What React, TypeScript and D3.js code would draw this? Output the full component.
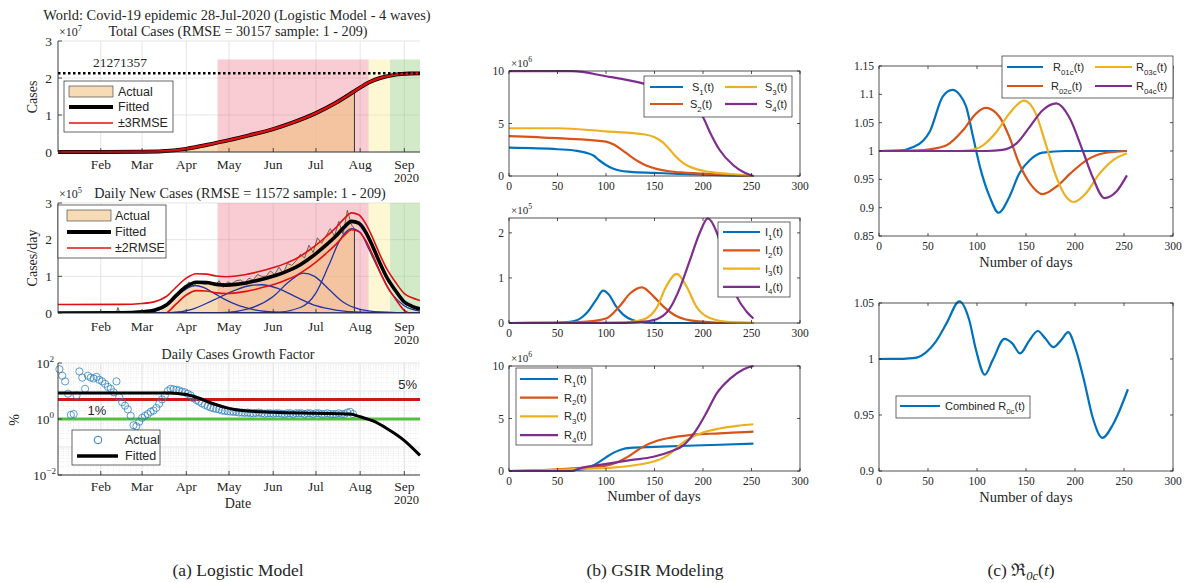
import React, { useEffect, useRef } from 'react';
import * as d3 from 'd3';

const SERIF = '"Liberation Serif", "DejaVu Serif", serif';
const SANS = '"Liberation Sans", Arial, sans-serif';
const INK = '#262626';
const MCOL = ['#0072BD', '#D95319', '#EDB120', '#7E2F8E'];

// ---------- (a) logistic model ----------
const monthTicks = ['2020-02-01', '2020-03-01', '2020-04-01', '2020-05-01', '2020-06-01', '2020-07-01', '2020-08-01', '2020-09-01'];
const monthNames = ['Feb', 'Mar', 'Apr', 'May', 'Jun', 'Jul', 'Aug', 'Sep'];
const phases = [['2020-04-23', '2020-08-07'], ['2020-08-07', '2020-08-22'], ['2020-08-22', '2020-09-12']];
const lastSample = '2020-07-28';
const finalSize = 2.1271357; // x1e7

// total cases, x1e7
const totalActual: [string, number][] = [
  ['2020-01-02', 0], ['2020-02-01', 0.001], ['2020-03-01', 0.009], ['2020-03-15', 0.017], ['2020-04-01', 0.09],
  ['2020-04-15', 0.2], ['2020-05-01', 0.33], ['2020-05-15', 0.45], ['2020-06-01', 0.62], ['2020-06-15', 0.8],
  ['2020-07-01', 1.05], ['2020-07-15', 1.34], ['2020-07-28', 1.66],
];
const totalFit: [string, number][] = [
  ['2020-01-02', 0], ['2020-02-01', 0.001], ['2020-03-01', 0.008], ['2020-03-15', 0.02], ['2020-04-01', 0.085],
  ['2020-04-15', 0.19], ['2020-05-01', 0.32], ['2020-05-15', 0.45], ['2020-06-01', 0.62], ['2020-06-15', 0.8],
  ['2020-07-01', 1.05], ['2020-07-15', 1.33], ['2020-07-28', 1.64], ['2020-08-07', 1.88], ['2020-08-15', 2.0],
  ['2020-08-25', 2.085], ['2020-09-05', 2.12], ['2020-09-12', 2.125],
];
const totalRmse3 = 0.009;

// daily new cases, x1e5
const dailyActual: [string, number][] = [
  ['2020-01-02', 0], ['2020-01-22', 0.005], ['2020-02-01', 0.02], ['2020-02-05', 0.035], ['2020-02-10', 0.025],
  ['2020-02-12', 0.02], ['2020-02-13', 0.15], ['2020-02-14', 0.05], ['2020-02-18', 0.02], ['2020-02-24', 0.01],
  ['2020-03-01', 0.02], ['2020-03-04', 0.025], ['2020-03-07', 0.04], ['2020-03-10', 0.05], ['2020-03-13', 0.1],
  ['2020-03-16', 0.15], ['2020-03-19', 0.28], ['2020-03-22', 0.33], ['2020-03-25', 0.45], ['2020-03-28', 0.65],
  ['2020-03-31', 0.7], ['2020-04-03', 0.85], ['2020-04-06', 0.72], ['2020-04-09', 0.86], ['2020-04-12', 0.8],
  ['2020-04-15', 0.78], ['2020-04-18', 0.84], ['2020-04-21', 0.74], ['2020-04-24', 0.88], ['2020-04-27', 0.7],
  ['2020-04-30', 0.85], ['2020-05-03', 0.8], ['2020-05-06', 0.88], ['2020-05-09', 0.9], ['2020-05-12', 0.82],
  ['2020-05-15', 0.95], ['2020-05-18', 0.9], ['2020-05-21', 1.05], ['2020-05-24', 1.0], ['2020-05-27', 1.0],
  ['2020-05-30', 1.15], ['2020-06-02', 1.05], ['2020-06-05', 1.25], ['2020-06-08', 1.08], ['2020-06-11', 1.35],
  ['2020-06-14', 1.3], ['2020-06-17', 1.42], ['2020-06-20', 1.6], ['2020-06-23', 1.5], ['2020-06-26', 1.85],
  ['2020-06-29', 1.65], ['2020-07-02', 2.05], ['2020-07-05', 1.9], ['2020-07-08', 2.1], ['2020-07-11', 2.3],
  ['2020-07-14', 2.1], ['2020-07-17', 2.5], ['2020-07-20', 2.15], ['2020-07-23', 2.8], ['2020-07-26', 2.4],
  ['2020-07-28', 2.3],
];
const dailyFit: [string, number][] = [
  ['2020-01-02', 0], ['2020-02-15', 0.005], ['2020-03-01', 0.03], ['2020-03-10', 0.08], ['2020-03-18', 0.22],
  ['2020-03-25', 0.48], ['2020-04-01', 0.72], ['2020-04-08', 0.84], ['2020-04-15', 0.83], ['2020-04-22', 0.78],
  ['2020-04-29', 0.76], ['2020-05-06', 0.78], ['2020-05-13', 0.82], ['2020-05-20', 0.88], ['2020-05-27', 0.95],
  ['2020-06-03', 1.03], ['2020-06-10', 1.13], ['2020-06-17', 1.25], ['2020-06-24', 1.42], ['2020-07-01', 1.62],
  ['2020-07-08', 1.85], ['2020-07-15', 2.1], ['2020-07-21', 2.35], ['2020-07-26', 2.5], ['2020-07-31', 2.45],
  ['2020-08-05', 2.2], ['2020-08-10', 1.8], ['2020-08-15', 1.35], ['2020-08-20', 0.95], ['2020-08-26', 0.6],
  ['2020-09-01', 0.3], ['2020-09-06', 0.19], ['2020-09-12', 0.11],
];
const dailyRmse2 = 0.23;
const wave1: [string, number][] = [
  ['2020-01-02', 0], ['2020-03-01', 0.01], ['2020-03-12', 0.07], ['2020-03-20', 0.25], ['2020-03-28', 0.55],
  ['2020-04-07', 0.75], ['2020-04-13', 0.7], ['2020-04-20', 0.55], ['2020-04-28', 0.37], ['2020-05-08', 0.2],
  ['2020-05-20', 0.08], ['2020-06-05', 0.02], ['2020-07-01', 0], ['2020-09-12', 0],
];
const wave2: [string, number][] = [
  ['2020-01-02', 0], ['2020-03-20', 0.01], ['2020-04-05', 0.1], ['2020-04-20', 0.35], ['2020-05-05', 0.62],
  ['2020-05-16', 0.75], ['2020-05-24', 0.77], ['2020-06-05', 0.66], ['2020-06-18', 0.42], ['2020-07-01', 0.2],
  ['2020-07-15', 0.08], ['2020-08-01', 0.02], ['2020-09-12', 0],
];
const wave3: [string, number][] = [
  ['2020-01-02', 0], ['2020-04-25', 0.01], ['2020-05-15', 0.12], ['2020-06-01', 0.45], ['2020-06-12', 0.85],
  ['2020-06-22', 1.09], ['2020-06-30', 1.0], ['2020-07-10', 0.65], ['2020-07-20', 0.3], ['2020-08-01', 0.1],
  ['2020-08-15', 0.03], ['2020-09-12', 0],
];
const wave4: [string, number][] = [
  ['2020-01-02', 0], ['2020-06-01', 0.01], ['2020-06-20', 0.15], ['2020-07-01', 0.55], ['2020-07-10', 1.3],
  ['2020-07-18', 2.0], ['2020-07-26', 2.3], ['2020-08-01', 2.2], ['2020-08-07', 1.75], ['2020-08-15', 1.1],
  ['2020-08-22', 0.6], ['2020-09-01', 0.2], ['2020-09-12', 0.05],
];

// growth factor (%), one value every 2 days from 3 Jan to 27 Jul
const growthStart = '2020-01-03';
const growthStep = 2;
const growthActual = [
  60, 35, 22, 8, 1.4, 1.5, 7, 50, 30, 12, 35, 30, 28, 32, 25,
  22, 18, 14, 12, 9, 22, 6, 4, 3, 2.2, 1.3, 0.6, 0.55, 0.8,
  1.1, 1.3, 1.5, 1.8, 2.0, 2.5, 3.5, 5, 7, 10, 12, 11.5, 11, 10.5, 9.5, 9,
  8, 7, 5.5, 4.8, 4.2, 3.6, 3.2, 2.9, 2.6, 2.4, 2.3, 2.2, 2.0, 1.95, 1.9,
  1.85, 1.8, 1.8, 1.7, 1.7, 1.65, 1.7, 1.6, 1.6, 1.65, 1.7, 1.6, 1.55, 1.6, 1.6,
  1.55, 1.6, 1.6, 1.55, 1.5, 1.6, 1.6, 1.5, 1.6, 1.6, 1.6, 1.5, 1.6, 1.6, 1.5,
  1.6, 1.6, 1.5, 1.5, 1.6, 1.5, 1.5, 1.5, 1.6, 1.5, 1.5, 1.7, 1.8, 1.5,
];
const growthFit: [string, number][] = [
  ['2020-01-02', 8.5], ['2020-03-20', 8.5], ['2020-04-01', 7.5], ['2020-04-10', 5.5], ['2020-04-20', 3.5],
  ['2020-05-01', 2.4], ['2020-05-10', 2.0], ['2020-06-01', 1.75], ['2020-07-01', 1.6], ['2020-07-25', 1.5],
  ['2020-08-01', 1.2], ['2020-08-10', 0.85], ['2020-08-20', 0.45], ['2020-09-01', 0.17], ['2020-09-12', 0.05],
];
const growthHi = 5;
const growthLo = 1;

// ---------- (b) GSIR modelling, x1e6 / x1e5 ----------
const S1: [number, number][] = [[0, 2.7], [50, 2.55], [70, 2.4], [80, 2.2], [87, 1.95], [93, 1.5], [100, 1.05], [107, 0.72], [115, 0.5], [125, 0.4], [150, 0.3], [175, 0.2], [200, 0.13], [225, 0.06], [252, 0]];
const S2: [number, number][] = [[0, 3.8], [50, 3.6], [100, 3.28], [108, 3.0], [117, 2.45], [125, 1.9], [133, 1.4], [142, 0.98], [152, 0.68], [165, 0.45], [180, 0.32], [200, 0.22], [225, 0.1], [252, 0]];
const S3: [number, number][] = [[0, 4.55], [50, 4.55], [100, 4.25], [140, 3.95], [150, 3.7], [158, 3.25], [165, 2.6], [172, 1.85], [180, 1.2], [190, 0.75], [200, 0.5], [215, 0.3], [235, 0.14], [252, 0]];
const S4: [number, number][] = [[0, 9.98], [65, 9.98], [100, 9.5], [139, 8.8], [170, 7.9], [190, 6.5], [200, 5.6], [207, 4.2], [217, 2.5], [231, 1.05], [242, 0.35], [252, 0]];

const I1: [number, number][] = [[0, 0], [45, 0.003], [60, 0.02], [70, 0.06], [80, 0.22], [90, 0.52], [97, 0.72], [103, 0.63], [110, 0.38], [118, 0.18], [128, 0.06], [140, 0.015], [160, 0], [252, 0]];
const I2: [number, number][] = [[0, 0], [50, 0.005], [80, 0.03], [100, 0.1], [114, 0.37], [125, 0.66], [137, 0.79], [149, 0.59], [159, 0.37], [173, 0.15], [193, 0.04], [220, 0.005], [252, 0]];
const I3: [number, number][] = [[0, 0], [100, 0.005], [120, 0.015], [131, 0.04], [142, 0.11], [152, 0.33], [162, 0.81], [173, 1.09], [183, 0.81], [193, 0.37], [207, 0.11], [228, 0.02], [252, 0.005]];
const I4: [number, number][] = [[0, 0], [120, 0.005], [140, 0.03], [155, 0.11], [166, 0.33], [176, 0.77], [186, 1.36], [197, 2.02], [205, 2.32], [214, 2.02], [224, 1.3], [235, 0.58], [245, 0.25], [252, 0.1]];

const R1: [number, number][] = [[0, 0], [50, 0.05], [75, 0.15], [85, 0.45], [92, 0.8], [100, 1.3], [108, 1.75], [116, 2.05], [125, 2.2], [150, 2.3], [200, 2.45], [252, 2.6]];
const R2: [number, number][] = [[0, 0], [50, 0.15], [75, 0.3], [100, 0.5], [111, 0.8], [125, 1.5], [138, 2.3], [152, 2.85], [166, 3.16], [186, 3.42], [207, 3.55], [230, 3.65], [252, 3.75]];
const R3: [number, number][] = [[0, 0], [50, 0.1], [80, 0.22], [107, 0.32], [131, 0.57], [149, 0.9], [160, 1.3], [168, 1.8], [176, 2.47], [186, 3.1], [200, 3.67], [217, 4.05], [235, 4.3], [252, 4.45]];
const R4: [number, number][] = [[0, 0], [65, 0], [73, 0.25], [97, 0.63], [125, 1.04], [149, 1.36], [166, 1.84], [180, 2.47], [193, 3.9], [204, 5.63], [214, 7.37], [228, 8.8], [242, 9.7], [252, 10.0]];

// ---------- (c) R0c(t) ----------
const R01c: [number, number][] = [[0, 1], [20, 1.0005], [35, 1.007], [45, 1.018], [52, 1.035], [65, 1.096], [75, 1.108], [82, 1.1], [89, 1.078], [96, 1.025], [103, 0.972], [113, 0.919], [122, 0.891], [133, 0.919], [143, 0.96], [154, 0.984], [167, 0.997], [190, 1.0], [253, 1.0]];
const R02c: [number, number][] = [[0, 1], [40, 1.001], [52, 1.003], [69, 1.01], [86, 1.037], [99, 1.066], [109, 1.076], [123, 1.06], [133, 1.025], [143, 0.978], [154, 0.943], [167, 0.924], [181, 0.937], [195, 0.96], [212, 0.984], [229, 0.996], [253, 1.0]];
const R03c: [number, number][] = [[0, 1], [80, 1.0], [92, 1.001], [106, 1.01], [120, 1.034], [133, 1.066], [148, 1.089], [160, 1.066], [170, 1.013], [181, 0.954], [191, 0.919], [199, 0.91], [211, 0.925], [225, 0.96], [239, 0.984], [253, 0.996]];
const R04c: [number, number][] = [[0, 1], [110, 1.0], [126, 1.002], [140, 1.013], [154, 1.043], [167, 1.072], [181, 1.084], [194, 1.06], [208, 1.0], [218, 0.954], [230, 0.917], [242, 0.928], [253, 0.957]];
const R0c: [number, number][] = [[0, 1], [25, 1.0002], [35, 1.0007], [48, 1.006], [58, 1.0156], [69, 1.032], [82, 1.0515], [92, 1.035], [99, 1.008], [108, 0.986], [116, 0.999], [128, 1.018], [136, 1.014], [144, 1.005], [153, 1.016], [162, 1.025], [170, 1.018], [178, 1.0106], [186, 1.017], [193, 1.024], [201, 1.008], [210, 0.978], [218, 0.948], [228, 0.9296], [239, 0.942], [254, 0.973]];

const dayTicks = [0, 50, 100, 150, 200, 250, 300];

const parse = d3.timeParse('%Y-%m-%d');
const dt = (s: string) => parse(s) as Date;

function text(g: any, x: number, y: number, s: string, size: number, font = SERIF, anchor = 'start') {
  return g.append('text').attr('x', x).attr('y', y).attr('font-family', font).attr('font-size', size)
    .attr('text-anchor', anchor).attr('fill', INK).text(s);
}

function powText(g: any, x: number, y: number, base: string, exp: string, size: number, anchor = 'start') {
  const t = g.append('text').attr('x', x).attr('y', y).attr('font-family', SERIF).attr('font-size', size)
    .attr('text-anchor', anchor).attr('fill', INK);
  t.append('tspan').text(base);
  t.append('tspan').attr('dy', -size * 0.45).attr('font-size', size * 0.7).text(exp);
  return t;
}

function subText(g: any, x: number, y: number, pre: string, sub: string, post: string, size: number) {
  const t = g.append('text').attr('x', x).attr('y', y).attr('font-family', SANS).attr('font-size', size).attr('fill', INK);
  t.append('tspan').text(pre);
  t.append('tspan').attr('dy', size * 0.32).attr('font-size', size * 0.72).text(sub);
  t.append('tspan').attr('dy', -size * 0.32).text(post);
  return t;
}

function path(g: any, d: any, color: string, w: number) {
  return g.append('path').attr('d', d).attr('fill', 'none').attr('stroke', color).attr('stroke-width', w)
    .attr('stroke-linejoin', 'round');
}

// MATLAB-like boxed axes with inward ticks on all four sides
function boxAxes(g: any, xs: any, ys: any, yTicks: number[], yFmt: (v: number) => string) {
  const [x0, x1] = xs.range();
  const [yb, yt] = ys.range();
  g.append('rect').attr('x', x0).attr('y', yt).attr('width', x1 - x0).attr('height', yb - yt)
    .attr('fill', 'none').attr('stroke', INK).attr('stroke-width', 0.8);
  dayTicks.forEach((v) => {
    const px = xs(v);
    g.append('line').attr('x1', px).attr('x2', px).attr('y1', yb).attr('y2', yb - 3).attr('stroke', INK).attr('stroke-width', 0.8);
    g.append('line').attr('x1', px).attr('x2', px).attr('y1', yt).attr('y2', yt + 3).attr('stroke', INK).attr('stroke-width', 0.8);
    text(g, px, yb + 14, String(v), 11.5, SERIF, 'middle');
  });
  yTicks.forEach((v) => {
    const py = ys(v);
    g.append('line').attr('x1', x0).attr('x2', x0 + 3).attr('y1', py).attr('y2', py).attr('stroke', INK).attr('stroke-width', 0.8);
    g.append('line').attr('x1', x1).attr('x2', x1 - 3).attr('y1', py).attr('y2', py).attr('stroke', INK).attr('stroke-width', 0.8);
    text(g, x0 - 5, py + 4, yFmt(v), 11.5, SERIF, 'end');
  });
}

function legendBox(g: any, x: number, y: number, w: number, h: number) {
  g.append('rect').attr('x', x).attr('y', y).attr('width', w).attr('height', h)
    .attr('fill', '#fff').attr('stroke', INK).attr('stroke-width', 0.7);
}

function dateFrame(g: any, xs: any, ys: any, yTicks: number[], labelY: number) {
  const [x0, x1] = xs.range();
  const [yb, yt] = ys.range();
  g.append('line').attr('x1', x0).attr('x2', x0).attr('y1', yt).attr('y2', yb).attr('stroke', INK).attr('stroke-width', 0.9);
  g.append('line').attr('x1', x0).attr('x2', x1).attr('y1', yb).attr('y2', yb).attr('stroke', INK).attr('stroke-width', 0.9);
  monthTicks.forEach((m, i) => {
    const px = xs(dt(m));
    g.append('line').attr('x1', px).attr('x2', px).attr('y1', yb).attr('y2', yb - 4).attr('stroke', INK).attr('stroke-width', 0.8);
    text(g, px, labelY, monthNames[i], 13.5, SERIF, 'middle');
  });
  text(g, 419, labelY + 13, '2020', 12.5, SERIF, 'end');
  yTicks.forEach((v) => {
    const py = ys(v);
    g.append('line').attr('x1', x0).attr('x2', x0 + 4).attr('y1', py).attr('y2', py).attr('stroke', INK).attr('stroke-width', 0.8);
  });
}

function dateGrid(g: any, xs: any, ys: any, yTicks: number[]) {
  const [x0, x1] = xs.range();
  const [yb, yt] = ys.range();
  yTicks.forEach((v) => {
    g.append('line').attr('x1', x0).attr('x2', x1).attr('y1', ys(v)).attr('y2', ys(v)).attr('stroke', '#dedede').attr('stroke-width', 0.8);
  });
  monthTicks.forEach((m) => {
    const px = xs(dt(m));
    g.append('line').attr('x1', px).attr('x2', px).attr('y1', yt).attr('y2', yb).attr('stroke', '#dedede').attr('stroke-width', 0.8);
  });
}

const phaseFill = ['rgba(238,110,130,0.35)', 'rgba(250,238,160,0.45)', 'rgba(140,200,110,0.38)'];
const actualFill = 'rgba(240,190,120,0.55)';

function drawLeft(svg: any) {
  const g = svg.append('g');
  const xA = d3.scaleTime().domain([dt('2020-01-02'), dt('2020-09-12')]).range([58, 420]);

  // ---- titles
  text(g, 237, 20, 'World: Covid-19 epidemic 28-Jul-2020 (Logistic Model - 4 waves)', 14.4, SERIF, 'middle');
  text(g, 238, 36, 'Total Cases (RMSE = 30157 sample: 1 - 209)', 14.2, SERIF, 'middle');
  powText(g, 59, 36, '×10', '7', 12);

  // ---- panel 1: total cases
  const y1 = d3.scaleLinear().domain([0, 3]).range([152, 41]);
  dateGrid(g, xA, y1, [0, 1, 2, 3]);
  phases.forEach((p, i) => {
    g.append('rect').attr('x', xA(dt(p[0]))).attr('width', xA(dt(p[1])) - xA(dt(p[0])))
      .attr('y', y1(2.5)).attr('height', y1(0) - y1(2.5)).attr('fill', phaseFill[i]);
  });
  const area1 = d3.area<[string, number]>().x((d) => xA(dt(d[0]))).y0(y1(0)).y1((d) => y1(d[1])).curve(d3.curveMonotoneX);
  g.append('path').attr('d', area1(totalActual)).attr('fill', actualFill);
  const tail1 = totalActual[totalActual.length - 1];
  g.append('line').attr('x1', xA(dt(lastSample))).attr('x2', xA(dt(lastSample))).attr('y1', y1(tail1[1])).attr('y2', y1(0))
    .attr('stroke', '#333').attr('stroke-width', 1);
  const line1 = (off: number) => d3.line<[string, number]>().x((d) => xA(dt(d[0]))).y((d) => y1(d[1] + off)).curve(d3.curveMonotoneX)(totalFit);
  path(g, line1(0), '#000', 4);
  path(g, line1(totalRmse3), '#e01010', 1.8);
  path(g, line1(-totalRmse3), '#e01010', 1.8);
  g.append('line').attr('x1', 58).attr('x2', 420).attr('y1', y1(finalSize)).attr('y2', y1(finalSize))
    .attr('stroke', '#000').attr('stroke-width', 2.6).attr('stroke-dasharray', '2.5,2.5');
  text(g, 120, y1(finalSize) - 6, String(Math.round(finalSize * 1e7)), 13.5, SERIF, 'middle');
  dateFrame(g, xA, y1, [0, 1, 2, 3], 169);
  [0, 1, 2, 3].forEach((v) => text(g, 52, y1(v) + 4.5, String(v), 13.5, SERIF, 'end'));
  text(g, 0, 0, 'Cases', 14, SERIF, 'middle').attr('transform', 'translate(37,97) rotate(-90)');

  // legend 1
  legendBox(g, 64, 81, 109, 51);
  g.append('rect').attr('x', 69).attr('y', 86).attr('width', 44).attr('height', 11).attr('fill', actualFill).attr('stroke', '#333').attr('stroke-width', 0.6);
  path(g, 'M69,107H113', '#000', 4);
  path(g, 'M69,123H113', '#e01010', 1.6);
  text(g, 118, 96, 'Actual', 12.5, SANS);
  text(g, 118, 111, 'Fitted', 12.5, SANS);
  text(g, 118, 127, '±3RMSE', 12.5, SANS);

  // ---- panel 2: daily new cases
  const y2 = d3.scaleLinear().domain([0, 3]).range([313, 203]);
  powText(g, 59, 198, '×10', '5', 12);
  text(g, 240, 198, 'Daily New Cases (RMSE = 11572 sample: 1 - 209)', 14.2, SERIF, 'middle');
  dateGrid(g, xA, y2, [0, 1, 2, 3]);
  phases.forEach((p, i) => {
    g.append('rect').attr('x', xA(dt(p[0]))).attr('width', xA(dt(p[1])) - xA(dt(p[0])))
      .attr('y', y2(3)).attr('height', y2(0) - y2(3)).attr('fill', phaseFill[i]);
  });
  g.append('defs').append('clipPath').attr('id', 'clipDaily').append('rect')
    .attr('x', 58).attr('y', 203).attr('width', 362).attr('height', 110);
  const gc = g.append('g').attr('clip-path', 'url(#clipDaily)');
  const area2 = d3.area<[string, number]>().x((d) => xA(dt(d[0]))).y0(y2(0)).y1((d) => y2(d[1])).curve(d3.curveLinear);
  gc.append('path').attr('d', area2(dailyActual)).attr('fill', actualFill);
  const lin2 = d3.line<[string, number]>().x((d) => xA(dt(d[0]))).y((d) => y2(d[1])).curve(d3.curveLinear);
  path(gc, lin2(dailyActual), '#555', 0.9);
  const tail2 = dailyActual[dailyActual.length - 1];
  gc.append('line').attr('x1', xA(dt(lastSample))).attr('x2', xA(dt(lastSample))).attr('y1', y2(tail2[1])).attr('y2', y2(0))
    .attr('stroke', '#333').attr('stroke-width', 1);
  const smooth2 = (data: [string, number][], off: number) =>
    d3.line<[string, number]>().x((d) => xA(dt(d[0]))).y((d) => y2(d[1] + off)).curve(d3.curveMonotoneX)(data);
  [wave1, wave2, wave3, wave4].forEach((w) => path(gc, smooth2(w, 0), '#2433a8', 1.3));
  path(gc, smooth2(dailyFit, dailyRmse2), '#e01010', 1.6);
  path(gc, smooth2(dailyFit, -dailyRmse2), '#e01010', 1.6);
  path(gc, smooth2(dailyFit, 0), '#000', 3.6);
  dateFrame(g, xA, y2, [0, 1, 2, 3], 331);
  [0, 1, 2, 3].forEach((v) => text(g, 52, y2(v) + 4.5, String(v), 13.5, SERIF, 'end'));
  text(g, 0, 0, 'Cases/day', 14, SERIF, 'middle').attr('transform', 'translate(37,258) rotate(-90)');

  legendBox(g, 58, 205, 108, 53);
  g.append('rect').attr('x', 67).attr('y', 210).attr('width', 44).attr('height', 11).attr('fill', actualFill).attr('stroke', '#333').attr('stroke-width', 0.6);
  path(g, 'M67,232H111', '#000', 4);
  path(g, 'M67,248H111', '#e01010', 1.6);
  text(g, 115, 220, 'Actual', 12.5, SANS);
  text(g, 115, 236, 'Fitted', 12.5, SANS);
  text(g, 115, 252, '±2RMSE', 12.5, SANS);

  // ---- panel 3: growth factor (log)
  const y3 = d3.scaleLog().domain([1e-2, 1e2]).range([475, 363]);
  text(g, 238, 359, 'Daily Cases Growth Factor', 14, SERIF, 'middle');
  const gg = g.append('g');
  // minor grid
  [-2, -1, 0, 1].forEach((e) => {
    for (let k = 2; k <= 9; k++) {
      const py = y3(k * Math.pow(10, e));
      gg.append('line').attr('x1', 58).attr('x2', 420).attr('y1', py).attr('y2', py).attr('stroke', '#e2e2e2')
        .attr('stroke-width', 0.7).attr('stroke-dasharray', '1,1.5');
    }
  });
  d3.timeDay.range(dt('2020-01-05'), dt('2020-09-12'), 4).forEach((d) => {
    const px = xA(d);
    gg.append('line').attr('x1', px).attr('x2', px).attr('y1', 363).attr('y2', 475).attr('stroke', '#e6e6e6')
      .attr('stroke-width', 0.7).attr('stroke-dasharray', '1,1.5');
  });
  dateGrid(g, xA, y3, [1e-2, 1e-1, 1, 10, 100]);
  g.append('line').attr('x1', 58).attr('x2', 420).attr('y1', y3(growthHi)).attr('y2', y3(growthHi)).attr('stroke', '#d01515').attr('stroke-width', 3);
  g.append('line').attr('x1', 58).attr('x2', 420).attr('y1', y3(growthLo)).attr('y2', y3(growthLo)).attr('stroke', '#55c040').attr('stroke-width', 3);
  growthActual.forEach((v, i) => {
    g.append('circle').attr('cx', xA(d3.timeDay.offset(dt(growthStart), i * growthStep))).attr('cy', y3(v)).attr('r', 3.6)
      .attr('fill', 'none').attr('stroke', '#2b7fc0').attr('stroke-width', 0.9).attr('opacity', 0.85);
  });
  const lin3 = d3.line<[string, number]>().x((d) => xA(dt(d[0]))).y((d) => y3(d[1])).curve(d3.curveMonotoneX);
  path(g, lin3(growthFit), '#000', 3);
  text(g, 417, 389, '5%', 13, SANS, 'end');
  text(g, 97, 415, '1%', 13, SANS, 'middle');
  dateFrame(g, xA, y3, [1e-2, 1, 100], 491);
  powText(g, 54, y3(100) + 5, '10', '2', 13, 'end');
  powText(g, 54, y3(1) + 5, '10', '0', 13, 'end');
  powText(g, 56, y3(0.01) + 5, '10', '−2', 13, 'end');
  text(g, 0, 0, '%', 14, SERIF, 'middle').attr('transform', 'translate(19,420) rotate(-90)');
  text(g, 238, 508, 'Date', 14, SERIF, 'middle');

  legendBox(g, 72, 430, 88, 35);
  g.append('circle').attr('cx', 98).attr('cy', 440).attr('r', 3.8).attr('fill', 'none').attr('stroke', '#2b7fc0').attr('stroke-width', 1);
  path(g, 'M77,456H118', '#000', 3.5);
  text(g, 125, 444, 'Actual', 12.5, SANS);
  text(g, 125, 460, 'Fitted', 12.5, SANS);
}

function drawMiddle(svg: any) {
  const g = svg.append('g');
  const xs = d3.scaleLinear().domain([0, 300]).range([509, 800]);
  const lineFor = (ys: any) => d3.line<[number, number]>().x((d) => xs(d[0])).y((d) => ys(d[1])).curve(d3.curveMonotoneX);

  // S
  const yS = d3.scaleLinear().domain([0, 10]).range([176, 71]);
  [S1, S2, S3, S4].forEach((s, i) => path(g, lineFor(yS)(s), MCOL[i], 2.2));
  boxAxes(g, xs, yS, [0, 5, 10], (v) => String(v));
  powText(g, 511, 67, '×10', '6', 11);
  legendBox(g, 644, 76, 148, 41);
  path(g, 'M650,87H683', MCOL[0], 2.2); subText(g, 692, 91, 'S', '1', '(t)', 11);
  path(g, 'M650,104H683', MCOL[1], 2.2); subText(g, 690, 108, 'S', '2', '(t)', 11);
  path(g, 'M725,87H757', MCOL[2], 2.2); subText(g, 765, 91, 'S', '3', '(t)', 11);
  path(g, 'M725,104H757', MCOL[3], 2.2); subText(g, 765, 108, 'S', '4', '(t)', 11);

  // I
  const yI = d3.scaleLinear().domain([0, 2.33]).range([323, 218]);
  [I1, I2, I3, I4].forEach((s, i) => path(g, lineFor(yI)(s), MCOL[i], 2.2));
  boxAxes(g, xs, yI, [0, 1, 2], (v) => String(v));
  powText(g, 511, 214, '×10', '5', 11);
  legendBox(g, 718, 222, 72, 75);
  ['1', '2', '3', '4'].forEach((k, i) => {
    const yy = 232 + i * 18.3;
    path(g, `M723,${yy}H760`, MCOL[i], 2.2);
    subText(g, 765, yy + 4, 'I', k, '(t)', 11);
  });

  // R
  const yR = d3.scaleLinear().domain([0, 10]).range([471, 366]);
  [R1, R2, R3, R4].forEach((s, i) => path(g, lineFor(yR)(s), MCOL[i], 2.2));
  boxAxes(g, xs, yR, [0, 5, 10], (v) => String(v));
  powText(g, 511, 362, '×10', '6', 11);
  legendBox(g, 516, 368, 76, 77);
  ['1', '2', '3', '4'].forEach((k, i) => {
    const yy = 379 + i * 18.7;
    path(g, `M520,${yy}H558`, MCOL[i], 2.2);
    subText(g, 564, yy + 4, 'R', k, '(t)', 11);
  });
  text(g, 654, 501, 'Number of days', 14.5, SERIF, 'middle');
}

function drawRight(svg: any) {
  const g = svg.append('g');
  const xs = d3.scaleLinear().domain([0, 300]).range([879, 1173]);
  const lineFor = (ys: any) => d3.line<[number, number]>().x((d) => xs(d[0])).y((d) => ys(d[1])).curve(d3.curveMonotoneX);
  const fmt = (v: number) => String(+v.toFixed(2));

  const yT = d3.scaleLinear().domain([0.85, 1.15]).range([236, 66]);
  [R01c, R02c, R03c, R04c].forEach((s, i) => path(g, lineFor(yT)(s), MCOL[i], 2.2));
  boxAxes(g, xs, yT, [0.85, 0.9, 0.95, 1, 1.05, 1.1, 1.15], fmt);
  text(g, 1026, 267, 'Number of days', 14.5, SERIF, 'middle');
  legendBox(g, 1002, 56, 171, 42);
  path(g, 'M1007,67H1043', MCOL[0], 2.2); subText(g, 1053, 71, 'R', '01c', '(t)', 11);
  path(g, 'M1007,86H1043', MCOL[1], 2.2); subText(g, 1051, 90, 'R', '02c', '(t)', 11);
  path(g, 'M1095,67H1132', MCOL[2], 2.2); subText(g, 1136, 71, 'R', '03c', '(t)', 11);
  path(g, 'M1095,86H1132', MCOL[3], 2.2); subText(g, 1136, 90, 'R', '04c', '(t)', 11);

  const yB = d3.scaleLinear().domain([0.9, 1.05]).range([471, 303]);
  path(g, lineFor(yB)(R0c), MCOL[0], 2.2);
  boxAxes(g, xs, yB, [0.9, 0.95, 1, 1.05], fmt);
  text(g, 1026, 502, 'Number of days', 14.5, SERIF, 'middle');
  legendBox(g, 896, 396, 134, 22);
  path(g, 'M900,406H940', MCOL[0], 2.2);
  subText(g, 945, 410, 'Combined R', '0c', '(t)', 11);
}

function drawCaptions(svg: any) {
  const g = svg.append('g');
  text(g, 238, 576, '(a) Logistic Model', 17.5, SERIF, 'middle');
  text(g, 655, 576, '(b) GSIR Modeling', 17.5, SERIF, 'middle');
  const t = g.append('text').attr('x', 1021).attr('y', 576).attr('font-family', SERIF).attr('font-size', 17.5)
    .attr('text-anchor', 'middle').attr('fill', INK);
  t.append('tspan').text('(c) ℜ');
  t.append('tspan').attr('dy', 3.5).attr('font-size', 12.5).attr('font-style', 'italic').text('0c');
  t.append('tspan').attr('dy', -3.5).text('(');
  t.append('tspan').attr('font-style', 'italic').text('t');
  t.append('tspan').text(')');
}

export default function App() {
  const ref = useRef<SVGSVGElement>(null);
  useEffect(() => {
    const svg = d3.select(ref.current);
    svg.selectAll('*').remove();
    svg.append('rect').attr('width', 1184).attr('height', 583).attr('fill', '#fff');
    drawLeft(svg);
    drawMiddle(svg);
    drawRight(svg);
    drawCaptions(svg);
  }, []);
  return (
    <svg ref={ref} width={1184} height={583} style={{ position: 'absolute', left: 0, top: 0, display: 'block' }} />
  );
}
